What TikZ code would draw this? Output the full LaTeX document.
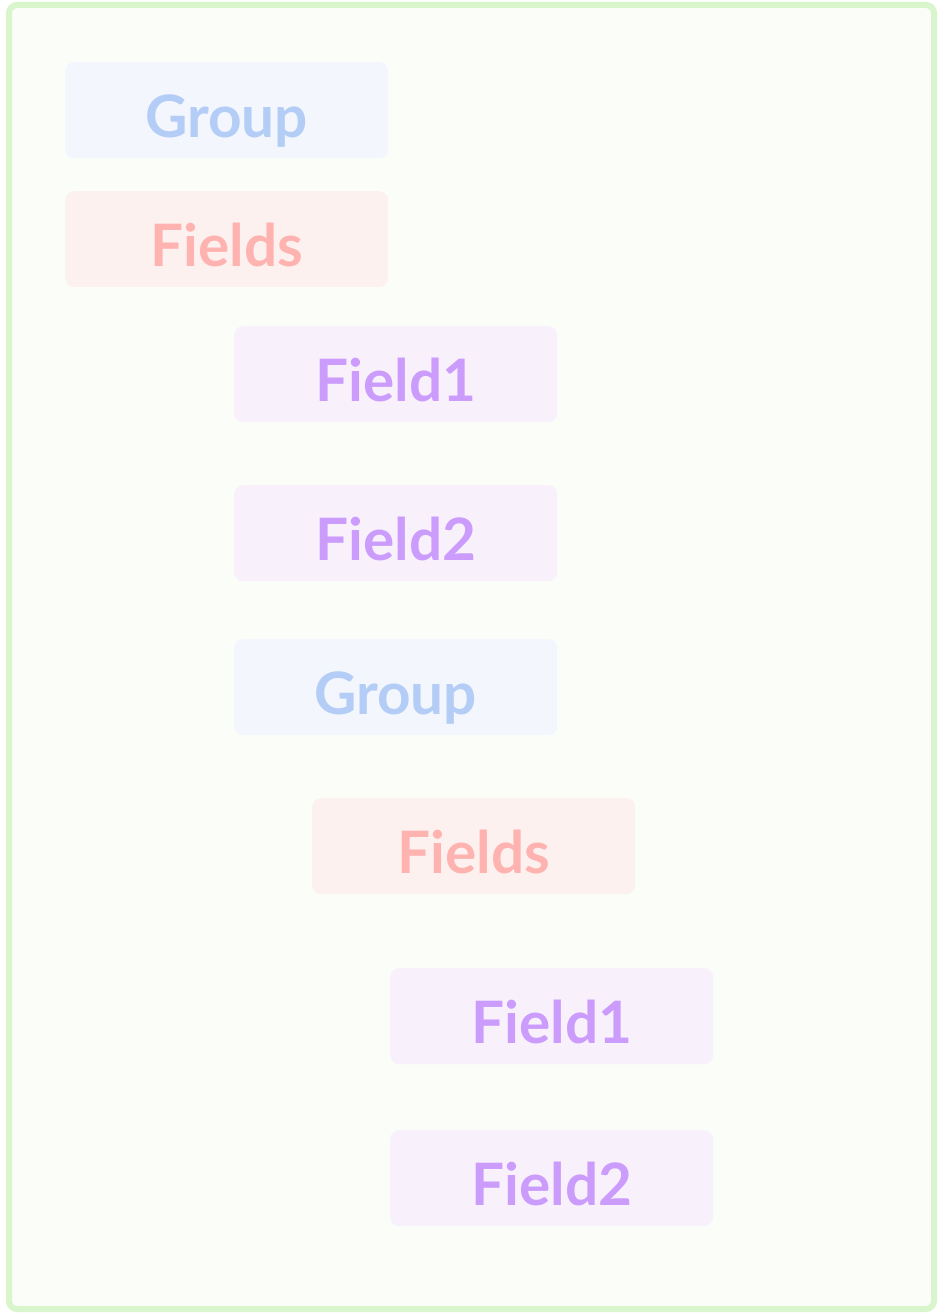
\documentclass[tikz,border=0pt]{standalone}
\usepackage{fontspec}
\setmainfont{Lato}[UprightFont=* Bold]
\definecolor{frameC}{HTML}{D8F5CC}
\definecolor{bgC}{HTML}{FBFDF9}
\definecolor{grpFill}{HTML}{F3F6FD}
\definecolor{grpText}{HTML}{B3CDF6}
\definecolor{fldsFill}{HTML}{FDF1EF}
\definecolor{fldsText}{HTML}{FFB3B0}
\definecolor{fldFill}{HTML}{F8F1FC}
\definecolor{fldText}{HTML}{CB9CFC}
\tikzset{
  box/.style={rounded corners=9pt, minimum width=323pt, minimum height=96pt, inner sep=0pt,
    text height=54pt, text depth=0pt, font=\fontsize{58.5}{62}\selectfont, anchor=north west},
  grp/.style={box, fill=grpFill, text=grpText},
  flds/.style={box, fill=fldsFill, text=fldsText},
  fld/.style={box, fill=fldFill, text=fldText},
}
\begin{document}
\begin{tikzpicture}[x=1pt,y=-1pt]
\useasboundingbox (0,0) rectangle (938,1314);
\draw[frameC, line width=6pt, fill=bgC, rounded corners=8pt] (9,5) rectangle (934,1309);
\node[grp]  (g1) at (65,62)   {Group};
\node[flds] (s1) at (65,191)  {Fields};
\node[fld]  (f1) at (234,326) {Field1};
\node[fld]  (f2) at (234,485) {Field2};
\node[grp]  (g2) at (234,639) {Group};
\node[flds] (s2) at (312,798) {Fields};
\node[fld]  (f3) at (390,968) {Field1};
\node[fld]  (f4) at (390,1130) {Field2};
\end{tikzpicture}
\end{document}
